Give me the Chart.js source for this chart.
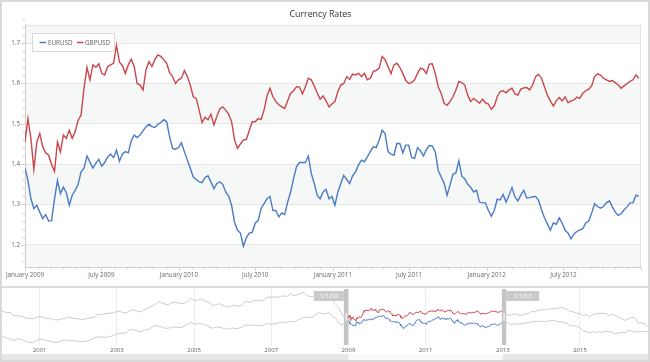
<!DOCTYPE html>
<html>
<head>
<meta charset="utf-8">
<script src="https://cdn.jsdelivr.net/npm/chart.js@4.4.0/dist/chart.umd.min.js"></script>
<style>
  body { margin: 0; background: #fff; }
  #wrap { position: relative; width: 650px; height: 362px; overflow: hidden; }
  #main { position: absolute; left: 0; top: 0; }
  #overview { position: absolute; left: 0; top: 288px; }
  #sep { position: absolute; left: 0; top: 286px; width: 650px; height: 2px; background: #dcdcdc; }
  #frame { position: absolute; left: 0; top: 0; width: 650px; height: 362px; box-sizing: border-box; border: 2px solid #d9d9d9; pointer-events: none; }
</style>
</head>
<body>
<div id="wrap">
  <canvas id="main" width="650" height="286"></canvas>
  <div id="sep"></div>
  <canvas id="overview" width="650" height="74"></canvas>
  <div id="frame"></div>
</div>
<script>
// weekly closes from 1 Jan 2009
const seriesNames = ['EURUSD', 'GBPUSD'];
const eurusd = [
  1.39, 1.36, 1.314, 1.29, 1.298, 1.281, 1.265, 1.275, 1.259, 1.26,
  1.314, 1.36, 1.327, 1.343, 1.329, 1.298, 1.323, 1.335, 1.35, 1.381,
  1.39, 1.42, 1.405, 1.39, 1.402, 1.412, 1.395, 1.404, 1.418, 1.425,
  1.416, 1.435, 1.407, 1.425, 1.431, 1.428, 1.458, 1.472, 1.466, 1.472,
  1.483, 1.493, 1.499, 1.493, 1.491, 1.499, 1.503, 1.51, 1.505, 1.468,
  1.439, 1.437, 1.441, 1.453, 1.431, 1.41, 1.39, 1.368, 1.362, 1.356,
  1.354, 1.367, 1.371, 1.356, 1.339, 1.352, 1.356, 1.35, 1.331, 1.321,
  1.298, 1.256, 1.236, 1.229, 1.196, 1.218, 1.229, 1.231, 1.254, 1.26,
  1.29, 1.302, 1.314, 1.32, 1.285, 1.285, 1.269, 1.279, 1.275, 1.306,
  1.331, 1.364, 1.394, 1.404, 1.404, 1.404, 1.42, 1.377, 1.352, 1.323,
  1.314, 1.331, 1.337, 1.314, 1.32, 1.298, 1.331, 1.352, 1.372, 1.362,
  1.352, 1.371, 1.381, 1.398, 1.41, 1.406, 1.418, 1.431, 1.443, 1.441,
  1.46, 1.484, 1.476, 1.431, 1.425, 1.422, 1.451, 1.451, 1.428, 1.447,
  1.447, 1.416, 1.414, 1.441, 1.433, 1.42, 1.436, 1.446, 1.445, 1.431,
  1.385, 1.368, 1.353, 1.323, 1.348, 1.375, 1.378, 1.408, 1.37, 1.364,
  1.35, 1.343, 1.331, 1.335, 1.306, 1.304, 1.304, 1.285, 1.271, 1.285,
  1.313, 1.311, 1.325, 1.306, 1.323, 1.342, 1.319, 1.309, 1.323, 1.335,
  1.316, 1.317, 1.319, 1.32, 1.31, 1.287, 1.267, 1.252, 1.236, 1.254,
  1.251, 1.267, 1.254, 1.236, 1.229, 1.215, 1.227, 1.233, 1.237, 1.24,
  1.254, 1.259, 1.279, 1.302, 1.295, 1.291, 1.295, 1.304, 1.309, 1.294,
  1.281, 1.273, 1.277, 1.287, 1.294, 1.304, 1.304, 1.323, 1.32
];
const gbpusd = [
  1.455, 1.513, 1.464, 1.387, 1.455, 1.476, 1.443, 1.428, 1.422, 1.40,
  1.382, 1.455, 1.43, 1.472, 1.464, 1.484, 1.464, 1.48, 1.509, 1.522,
  1.588, 1.64, 1.609, 1.646, 1.64, 1.649, 1.625, 1.621, 1.642, 1.646,
  1.65, 1.695, 1.653, 1.644, 1.625, 1.646, 1.66, 1.642, 1.60, 1.596,
  1.584, 1.634, 1.654, 1.642, 1.659, 1.671, 1.667, 1.659, 1.65, 1.627,
  1.617, 1.60, 1.609, 1.613, 1.632, 1.617, 1.596, 1.567, 1.563, 1.534,
  1.503, 1.516, 1.51, 1.524, 1.497, 1.518, 1.537, 1.542, 1.534, 1.524,
  1.505, 1.46, 1.439, 1.45, 1.46, 1.461, 1.484, 1.505, 1.505, 1.513,
  1.511, 1.534, 1.569, 1.588, 1.567, 1.555, 1.547, 1.542, 1.538, 1.557,
  1.576, 1.582, 1.592, 1.591, 1.574, 1.592, 1.613, 1.609, 1.594, 1.577,
  1.561, 1.569, 1.557, 1.542, 1.549, 1.555, 1.58, 1.596, 1.60, 1.617,
  1.61, 1.623, 1.621, 1.625, 1.617, 1.625, 1.609, 1.613, 1.63, 1.632,
  1.638, 1.667, 1.659, 1.642, 1.624, 1.646, 1.65, 1.64, 1.625, 1.607,
  1.60, 1.602, 1.609, 1.625, 1.638, 1.635, 1.625, 1.648, 1.649, 1.625,
  1.592, 1.576, 1.551, 1.546, 1.555, 1.567, 1.584, 1.605, 1.602, 1.596,
  1.571, 1.555, 1.563, 1.557, 1.551, 1.561, 1.552, 1.549, 1.536, 1.544,
  1.567, 1.58, 1.582, 1.577, 1.584, 1.588, 1.574, 1.571, 1.586, 1.589,
  1.59, 1.584, 1.596, 1.617, 1.623, 1.613, 1.592, 1.571, 1.557, 1.544,
  1.557, 1.565, 1.557, 1.567, 1.552, 1.557, 1.559, 1.566, 1.563, 1.576,
  1.582, 1.586, 1.594, 1.617, 1.624, 1.621, 1.613, 1.609, 1.605, 1.607,
  1.602, 1.596, 1.588, 1.594, 1.60, 1.605, 1.609, 1.621, 1.613
];
// monthly, Jan 2000 - Dec 2008 (range selector background)
const eurusdBefore = [
  1.03, 0.98, 0.96, 0.93, 0.90, 0.94, 0.94, 0.90, 0.87, 0.85, 0.85, 0.90,
  0.94, 0.92, 0.91, 0.89, 0.87, 0.85, 0.86, 0.90, 0.91, 0.90, 0.89, 0.89,
  0.88, 0.87, 0.88, 0.89, 0.92, 0.96, 0.99, 0.98, 0.98, 0.98, 1.00, 1.02,
  1.06, 1.08, 1.08, 1.09, 1.16, 1.17, 1.14, 1.11, 1.13, 1.17, 1.17, 1.23,
  1.26, 1.25, 1.23, 1.20, 1.20, 1.22, 1.23, 1.22, 1.22, 1.25, 1.30, 1.34,
  1.31, 1.30, 1.32, 1.29, 1.27, 1.22, 1.20, 1.23, 1.22, 1.20, 1.18, 1.19,
  1.21, 1.19, 1.20, 1.23, 1.28, 1.27, 1.27, 1.28, 1.27, 1.26, 1.29, 1.32,
  1.30, 1.31, 1.32, 1.35, 1.35, 1.34, 1.37, 1.36, 1.39, 1.42, 1.47, 1.46,
  1.47, 1.48, 1.55, 1.58, 1.55, 1.56, 1.58, 1.50, 1.44, 1.33, 1.27, 1.34
];
const gbpusdBefore = [
  1.62, 1.60, 1.58, 1.59, 1.51, 1.50, 1.50, 1.48, 1.44, 1.44, 1.43, 1.46,
  1.49, 1.46, 1.44, 1.43, 1.43, 1.40, 1.41, 1.43, 1.44, 1.47, 1.45, 1.44,
  1.43, 1.42, 1.42, 1.44, 1.46, 1.46, 1.54, 1.53, 1.55, 1.56, 1.57, 1.58,
  1.61, 1.62, 1.58, 1.57, 1.62, 1.65, 1.63, 1.60, 1.62, 1.67, 1.70, 1.74,
  1.78, 1.85, 1.82, 1.79, 1.77, 1.82, 1.84, 1.82, 1.80, 1.81, 1.86, 1.93,
  1.89, 1.88, 1.91, 1.88, 1.85, 1.81, 1.75, 1.78, 1.80, 1.76, 1.73, 1.72,
  1.76, 1.75, 1.74, 1.76, 1.86, 1.84, 1.84, 1.89, 1.88, 1.87, 1.91, 1.96,
  1.96, 1.96, 1.96, 1.98, 1.99, 1.98, 2.04, 2.00, 2.01, 2.05, 2.08, 2.00,
  1.98, 1.97, 1.99, 1.99, 1.96, 1.97, 1.99, 1.88, 1.78, 1.70, 1.53, 1.46
];
// monthly, Jan 2013 - Oct 2016
const eurusdAfter = [
  1.33, 1.36, 1.31, 1.29, 1.31, 1.30, 1.31, 1.33, 1.34, 1.36, 1.36, 1.37,
  1.37, 1.36, 1.38, 1.38, 1.39, 1.36, 1.36, 1.34, 1.32, 1.26, 1.26, 1.25,
  1.21, 1.13, 1.12, 1.08, 1.12, 1.10, 1.11, 1.10, 1.13, 1.12, 1.10, 1.06,
  1.09, 1.09, 1.09, 1.14, 1.14, 1.11, 1.11, 1.12, 1.12, 1.12
];
const gbpusdAfter = [
  1.61, 1.56, 1.51, 1.53, 1.55, 1.52, 1.52, 1.55, 1.56, 1.62, 1.60, 1.64,
  1.65, 1.65, 1.67, 1.67, 1.68, 1.68, 1.71, 1.69, 1.66, 1.61, 1.60, 1.57,
  1.56, 1.51, 1.53, 1.48, 1.53, 1.55, 1.57, 1.56, 1.56, 1.51, 1.54, 1.51,
  1.47, 1.44, 1.39, 1.43, 1.46, 1.46, 1.33, 1.33, 1.31, 1.24
];
const mainTickLabels = ['January 2009', 'July 2009', 'January 2010', 'July 2010',
  'January 2011', 'July 2011', 'January 2012', 'July 2012'];
const yTicks = [1.2, 1.3, 1.4, 1.5, 1.6, 1.7];
const overviewYears = [2001, 2003, 2005, 2007, 2009, 2011, 2013, 2015];

const colors = ['#4a7bc4', '#c9474b'];
const gray = '#cdcdcd';
const DAY = 86400000;
const selStart = Date.UTC(2009, 0, 1);
const selEnd = Date.UTC(2013, 0, 1);

const mainDates = eurusd.map((_, i) => selStart + i * 7 * DAY);
const beforeDates = eurusdBefore.map((_, i) => Date.UTC(2000, i, 1));
const afterDates = eurusdAfter.map((_, i) => Date.UTC(2013, i, 1));

const toPoints = (dates, vals) => vals.map((v, i) => ({ x: dates[i], y: v }));

Chart.defaults.font.family = '"Open Sans", sans-serif';

const mainDecor = {
  id: 'mainDecor',
  beforeDraw(chart) {
    const { ctx, chartArea: a, scales: { y } } = chart;
    const edges = [y.min, ...yTicks, y.max];
    ctx.save();
    ctx.fillStyle = '#f6f8f8';
    for (let k = 0; k < edges.length - 1; k += 2) {
      const top = y.getPixelForValue(edges[k + 1]);
      const bot = y.getPixelForValue(edges[k]);
      ctx.fillRect(a.left, top, a.right - a.left, bot - top);
    }
    ctx.restore();
  },
  afterDraw(chart) {
    const { ctx, chartArea: a, scales: { x, y } } = chart;
    ctx.save();
    // top / right frame of the plot
    ctx.strokeStyle = '#e3e3e3';
    ctx.lineWidth = 1;
    ctx.beginPath();
    ctx.moveTo(a.left, a.top + 0.5); ctx.lineTo(a.right - 0.5, a.top + 0.5);
    ctx.lineTo(a.right - 0.5, a.bottom);
    ctx.stroke();
    // minor ticks
    ctx.strokeStyle = '#d2d2d2';
    ctx.beginPath();
    for (let m = 0; m <= 48; m++) {
      const px = Math.round(x.getPixelForValue(Date.UTC(2009, m, 1))) + 0.5;
      const len = m % 6 === 0 ? 4 : 2.5;
      ctx.moveTo(px, a.bottom); ctx.lineTo(px, a.bottom + len);
    }
    for (let k = 0; k <= 30; k++) {
      const v = 1.16 + k * 0.02;
      const py = Math.round(y.getPixelForValue(v)) + 0.5;
      const len = k % 5 === 2 ? 4 : 2.5;
      ctx.moveTo(a.left, py); ctx.lineTo(a.left - len, py);
    }
    ctx.stroke();
    // legend
    ctx.fillStyle = '#fff';
    ctx.strokeStyle = '#dadada';
    ctx.fillRect(32.5, 33.5, 82, 18);
    ctx.strokeRect(32.5, 33.5, 82, 18);
    ctx.font = '6.3px "Open Sans", sans-serif';
    ctx.textBaseline = 'middle';
    ctx.textAlign = 'left';
    const items = [[39.5, 48], [77, 85]];
    chart.data.datasets.forEach((ds, i) => {
      const [mx, tx] = items[i];
      ctx.strokeStyle = ds.borderColor;
      ctx.lineWidth = 1.5;
      ctx.beginPath();
      ctx.moveTo(mx, 42.5); ctx.lineTo(mx + 6.5, 42.5);
      ctx.stroke();
      ctx.fillStyle = '#5e5e5e';
      ctx.fillText(ds.label, tx, 42.8);
    });
    ctx.restore();
  }
};

new Chart(document.getElementById('main'), {
  type: 'line',
  data: {
    datasets: [
      { label: seriesNames[0], data: toPoints(mainDates, eurusd), borderColor: colors[0] },
      { label: seriesNames[1], data: toPoints(mainDates, gbpusd), borderColor: colors[1] }
    ]
  },
  options: {
    responsive: false,
    animation: false,
    devicePixelRatio: 1,
    layout: { padding: { top: 0, right: 9, left: 0, bottom: 0 } },
    elements: { point: { radius: 0 }, line: { borderWidth: 1.4, tension: 0 } },
    plugins: {
      legend: { display: false },
      tooltip: { enabled: false },
      title: {
        display: true, text: 'Currency Rates', color: '#333',
        font: { size: 8.8, weight: 'normal' }, padding: { top: 8.8, bottom: 5.6 }
      }
    },
    scales: {
      x: {
        type: 'linear', min: selStart, max: selEnd,
        afterBuildTicks: s => {
          s.ticks = mainTickLabels.map((_, k) => ({ value: Date.UTC(2009 + Math.floor(k / 2), (k % 2) * 6, 1) }));
        },
        afterFit: s => { s.height = 19; },
        grid: { display: false, drawTicks: false },
        border: { color: '#cfcfcf' },
        ticks: {
          autoSkip: false, maxRotation: 0, padding: 4, color: '#6a6a6a',
          font: { size: 6.3 }, callback: (v, k) => mainTickLabels[k]
        }
      },
      y: {
        min: 1.145, max: 1.745,
        afterBuildTicks: s => { s.ticks = yTicks.map(v => ({ value: v })); },
        afterFit: s => { s.width = 25; },
        grid: { color: '#e7e7e7', drawTicks: false },
        border: { color: '#cfcfcf' },
        ticks: { padding: 5, color: '#6a6a6a', font: { size: 6.3 }, callback: v => v.toFixed(1) }
      }
    }
  },
  plugins: [mainDecor]
});

// range selector
const overviewDecor = {
  id: 'overviewDecor',
  afterDraw(chart) {
    const { ctx, chartArea: a, scales: { x } } = chart;
    const xs = x.getPixelForValue(selStart);
    const xe = x.getPixelForValue(selEnd);
    ctx.save();
    // scroll strip
    ctx.fillStyle = '#e6e6e6';
    ctx.fillRect(2, 66, 646, 6);
    ctx.fillStyle = '#f9f9f9';
    ctx.fillRect(xs, 66, xe - xs, 6);
    // sliders
    ctx.fillStyle = '#c4c4c4';
    ctx.fillRect(xs - 4.6, a.top, 4.4, a.bottom - a.top);
    ctx.fillRect(xe - 1, a.top, 4.4, a.bottom - a.top);
    ctx.fillStyle = '#ececec';
    ctx.fillRect(xs - 3, 25, 1.5, 8);
    ctx.fillRect(xe + 0.5, 25, 1.5, 8);
    // slider labels
    ctx.fillStyle = '#cacaca';
    ctx.fillRect(xs - 4.6 - 30, 3, 30, 10);
    ctx.fillRect(xe + 3.4, 3, 33, 10);
    ctx.fillStyle = '#fff';
    ctx.font = '6px "Open Sans", sans-serif';
    ctx.textAlign = 'center';
    ctx.textBaseline = 'middle';
    ctx.fillText('1/1/09', xs - 4.6 - 15, 8.3);
    ctx.fillText('1/1/13', xe + 3.4 + 16.5, 8.3);
    ctx.restore();
  }
};

const overviewSeries = (before, main, after, color, label) => ({
  label,
  data: [...toPoints(beforeDates, before), ...toPoints(mainDates, main), ...toPoints(afterDates, after)],
  borderColor: gray,
  segment: {
    borderColor: c => (c.p0.parsed.x >= selStart && c.p1.parsed.x <= selEnd) ? color : gray
  }
});

new Chart(document.getElementById('overview'), {
  type: 'line',
  data: {
    datasets: [
      overviewSeries(eurusdBefore, eurusd, eurusdAfter, colors[0], seriesNames[0]),
      overviewSeries(gbpusdBefore, gbpusd, gbpusdAfter, colors[1], seriesNames[1])
    ]
  },
  options: {
    responsive: false,
    animation: false,
    devicePixelRatio: 1,
    layout: { padding: { top: 1, right: 1, left: 1, bottom: 0 } },
    elements: { point: { radius: 0 }, line: { borderWidth: 1, tension: 0 } },
    plugins: { legend: { display: false }, tooltip: { enabled: false }, title: { display: false } },
    scales: {
      x: {
        type: 'linear', min: Date.UTC(2000, 0, 1), max: Date.UTC(2016, 9, 15),
        afterBuildTicks: s => { s.ticks = overviewYears.map(yr => ({ value: Date.UTC(yr, 0, 1) })); },
        afterFit: s => { s.height = 17; },
        grid: { color: '#ececec', drawTicks: false },
        border: { display: false },
        ticks: {
          autoSkip: false, maxRotation: 0, padding: 2, color: '#5e5e5e',
          font: { size: 6 }, callback: (v, k) => String(overviewYears[k])
        }
      },
      y: { display: false, min: 0.79, max: 2.16 }
    }
  },
  plugins: [overviewDecor]
});
</script>
</body>
</html>
